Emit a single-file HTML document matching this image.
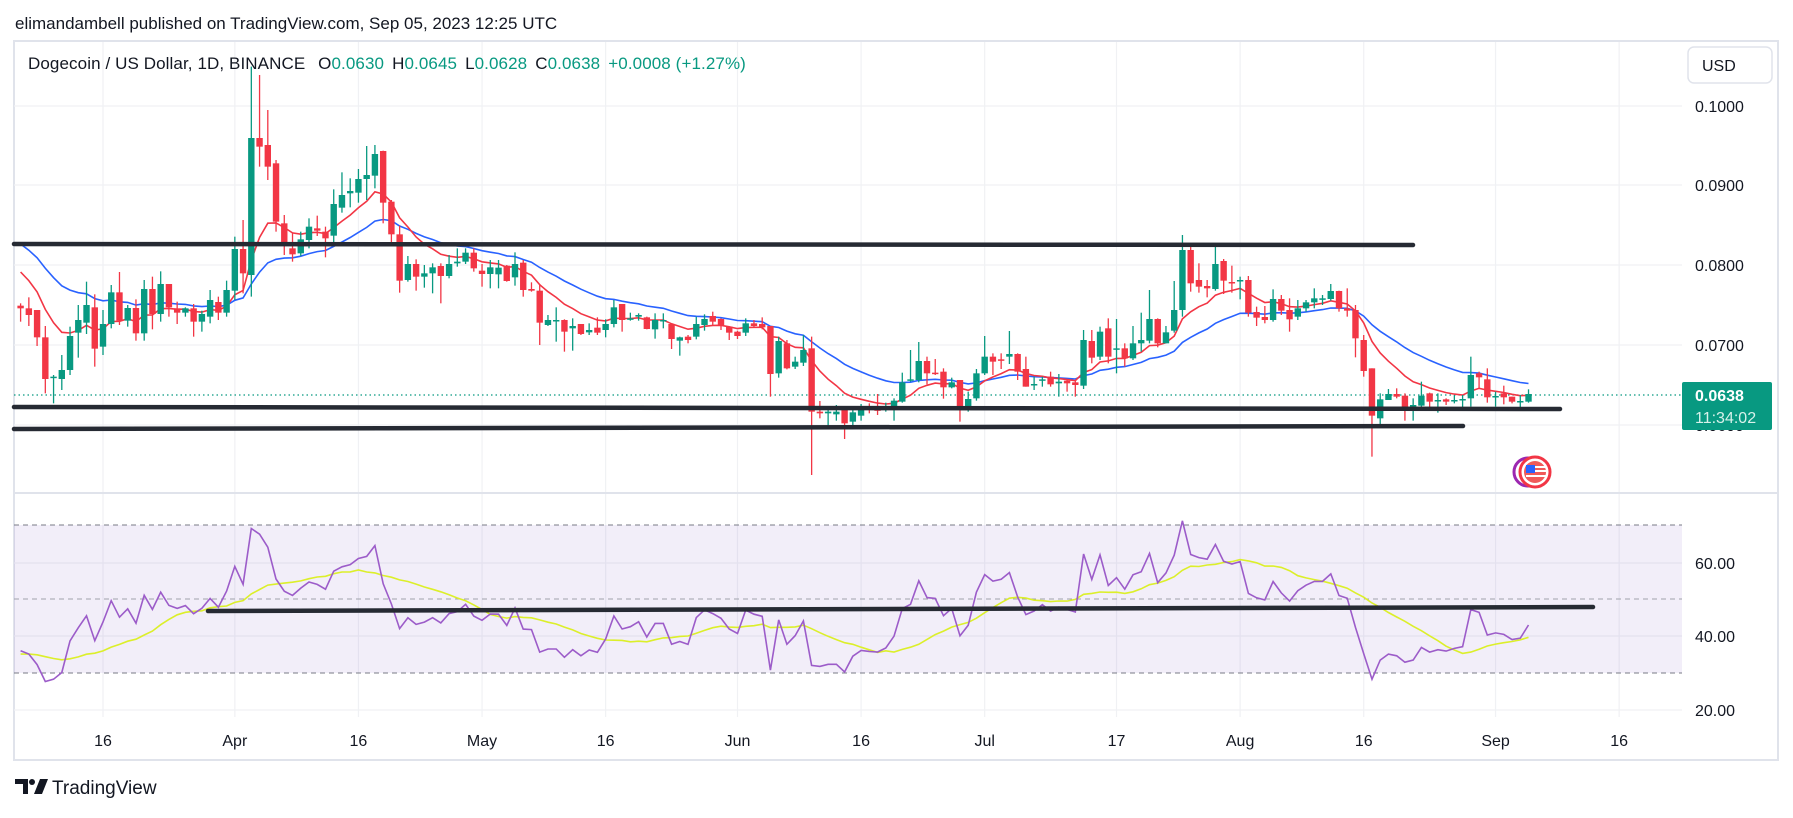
<!DOCTYPE html>
<html><head><meta charset="utf-8">
<style>
html,body{margin:0;padding:0;background:#fff;}
body{width:1793px;height:813px;overflow:hidden;font-family:"Liberation Sans",sans-serif;}
svg text{font-family:"Liberation Sans",sans-serif;}
</style></head>
<body>
<svg id="s" width="1793" height="813" xmlns="http://www.w3.org/2000/svg">
<rect width="1793" height="813" fill="#fff"/>
<text x="15" y="29" font-size="17" fill="#131722">elimandambell published on TradingView.com, Sep 05, 2023 12:25 UTC</text>
<rect x="14" y="41" width="1764" height="719" fill="none" stroke="#e0e3eb" stroke-width="2"/>
<g id="grid"></g>
<rect x="14" y="525" width="1668" height="148" fill="#7e57c2" fill-opacity="0.1"/>
<line x1="14" y1="525" x2="1682" y2="525" stroke="#787b86" stroke-dasharray="5,4"/>
<line x1="14" y1="599" x2="1682" y2="599" stroke="#a0a3ab" stroke-dasharray="5,4"/>
<line x1="14" y1="673" x2="1682" y2="673" stroke="#787b86" stroke-dasharray="5,4"/>
<line x1="14" y1="493" x2="1778" y2="493" stroke="#e0e3eb" stroke-width="2"/>
<line x1="14" y1="395" x2="1682" y2="395" stroke="#089981" stroke-dasharray="1.5,3" stroke-width="1.2"/>
<g id="ma"></g>
<g id="candles"></g>
<g id="rsi"></g>
<g stroke="#262a33" stroke-width="4.5" stroke-linecap="round">
<line x1="14" y1="244" x2="1413" y2="245"/>
<line x1="14" y1="407" x2="1560" y2="409"/>
<line x1="14" y1="429" x2="1463" y2="426"/>
<line x1="208" y1="611" x2="1593" y2="607"/>
</g>
<text x="28" y="69" font-size="17" letter-spacing="0.1" fill="#131722">Dogecoin / US Dollar, 1D, BINANCE <tspan dx="8">O</tspan><tspan fill="#089981">0.0630</tspan><tspan dx="8">H</tspan><tspan fill="#089981">0.0645</tspan><tspan dx="8">L</tspan><tspan fill="#089981">0.0628</tspan><tspan dx="8">C</tspan><tspan fill="#089981">0.0638</tspan><tspan dx="8" fill="#089981">+0.0008 (+1.27%)</tspan></text>
<rect x="1688" y="47" width="84" height="36" rx="6" fill="#fff" stroke="#e0e3eb" stroke-width="1.5"/>
<text x="1702" y="71" font-size="16" fill="#131722">USD</text>
<g font-size="16" fill="#131722">
<text x="1695" y="112">0.1000</text>
<text x="1695" y="191">0.0900</text>
<text x="1695" y="271">0.0800</text>
<text x="1695" y="351">0.0700</text>
<text x="1695" y="431">0.0600</text>
<text x="1695" y="569">60.00</text>
<text x="1695" y="642">40.00</text>
<text x="1695" y="716">20.00</text>
</g>
<rect x="1682" y="382" width="90" height="48" rx="2" fill="#089981"/>
<text x="1695" y="401" font-size="16" font-weight="bold" fill="#fff">0.0638</text>
<text x="1695" y="423" font-size="16" fill="#d8f1ea">11:34:02</text>
<g>
<circle cx="1528" cy="472" r="14" fill="none" stroke="#9c27b0" stroke-width="3"/>
<circle cx="1535" cy="472" r="15" fill="#fff" stroke="#f23645" stroke-width="3"/>
<circle cx="1535" cy="472" r="11" fill="#f05a5a"/>
<rect x="1526" y="465" width="9" height="8" fill="#2962ff"/>
<rect x="1535" y="466" width="11" height="2" fill="#fff"/>
<rect x="1535" y="470" width="11" height="2" fill="#fff"/>
<rect x="1526" y="475" width="20" height="2" fill="#fff"/>
</g>
<g id="tl" font-size="16" fill="#131722" text-anchor="middle"></g>
<g transform="translate(15,779)">
<path d="M0 0 H13 V15 H8 V5 H0 Z" fill="#131722"/>
<circle cx="17" cy="3" r="3" fill="#131722"/>
<path d="M19 15 L25 0 H33 L27 15 Z" fill="#131722"/>
</g>
<text x="52" y="794" font-size="19" fill="#131722">TradingView</text>
</svg>
<script>
(function(){
var NS="http://www.w3.org/2000/svg";
function el(t,a,p){var e=document.createElementNS(NS,t);for(var k in a)e.setAttribute(k,a[k]);p.appendChild(e);return e;}
function X(d){return 103+8.24*d;}
var grid=document.getElementById('grid');
var labs=[[0,'16'],[16,'Apr'],[31,'16'],[46,'May'],[61,'16'],[77,'Jun'],[92,'16'],[107,'Jul'],[123,'17'],[138,'Aug'],[153,'16'],[169,'Sep'],[184,'16']];
var tl=document.getElementById('tl');
labs.forEach(function(l){var x=X(l[0]);el('line',{x1:x,y1:42,x2:x,y2:717,stroke:'#f0f1f4','stroke-width':1.2},grid);
 var t=el('text',{x:x,y:746},tl);t.textContent=l[1];});
[106,185,265,345,425,563,636,710].forEach(function(y){el('line',{x1:14,y1:y,x2:1682,y2:y,stroke:'#f0f1f4','stroke-width':1.2},grid);});
var A=[[737,745,730,785],[745,765,712,798],[750,832,750,858],[832,957,798,1000],[953,950,945,1030],[957,930,885,990],[930,828,800,945],[818,780,735,893],[788,735,665,822],[742,866,703,920],[860,792,750,885],[792,697,675,805],[697,782,636,795],[782,744,735,800],[744,820,718,842],[820,687,660,842],[687,762,650,808],[762,672,634,785],[672,742,672,770],[745,758,725,792],[758,745,742,770],[745,785,732,830],[785,762,752,815],[770,720,690,790],[726,758,710,780],[758,690,662,770],[692,567,530,720],[567,640,480,700],[645,234,20,710],[234,260,45,320],[255,320,150,360],[310,485,300,515],[490,558,465,585],[565,583,520,605],[580,538,515,588],[540,500,475,565],[505,512,467,528],[515,535,500,592],[527,432,388,550],[443,405,337,458],[400,393,355,442],[398,357,327,428],[357,345,258,420],[347,282,255,385],[273,428,272,490],[425,523,420,555],[523,662,497,698],[660,612,588,665],[612,650,598,692],[650,640,615,683],[640,622,610,700],[618,648,610,730],[648,612,585,655],[610,605,565,620],[605,578,565,612],[578,625,565,635],[632,642,612,680],[642,622,600,685]];
var B=[[163,143,120,205],[137,183,135,185],[172,132,97,197],[128,210,120,230],[207,212,187,215],[212,308,192,375],[315,300,285,318],[300,300,262,365],[300,335,298,395],[325,318,295,392],[312,342,312,345],[337,330,310,345],[323,338,292,345],[330,312,298,352],[312,262,240,322],[252,300,252,335],[298,295,278,302],[290,285,280,302],[292,327,290,328],[328,300,280,356],[300,300,280,325],[312,357,312,387],[362,352,350,407],[350,360,345,370],[350,312,290,358],[315,297,283,332],[288,305,275,318],[297,315,295,330],[320,338,322,360],[335,348,332,357],[338,310,295,348],[310,318,300,322],[312,322,292,328],[318,462,318,530]];
var C=[[130,33,20,143],[40,115,30,118],[110,95,80,117],[98,60,15,108],[55,245,20,435],[245,250,213,265],[250,245,240,288],[253,245,225,272],[237,280,232,327],[275,247,237,297],[257,235,222,272],[233,238,220,250],[238,240,192,255],[240,233,218,245],[230,212,205,272],[215,157,128,218],[152,148,60,155],[150,93,36,157],[93,130,80,163],[128,132,87,135],[125,172,115,206],[172,157,143,175],[150,228,150,275],[228,207,185,245],[205,130,117,212],[130,80,18,135],[80,95,70,135],[88,90,70,117],[80,72,3,102],[72,125,70,150],[117,170,80,170],[165,162,140,180],[152,148,140,170],[140,163,125,170],[160,155,132,200],[152,160,150,185],[157,165,150,200],[167,30,0,177],[33,83,0,100]];
var D=[[410,335,320,420],[325,410,295,430],[385,385,297,460],[385,415,370,440],[415,370,318,420],[370,360,278,395],[362,297,210,370],[297,370,295,382],[370,337,318,370],[332,270,183,338],[270,90,45,290],[90,190,78,215],[180,200,130,218],[198,205,180,232],[207,132,80,212],[123,182,117,222],[186,190,137,218],[180,180,170,238],[180,278,168,290],[276,293,260,318],[291,300,258,310],[300,237,208,305],[237,272,225,285],[270,298,235,335],[290,265,240,300],[265,247,240,275],[247,235,205,265],[235,235,225,255],[237,213,192,242],[213,265,212,275],[265,272,205,290],[270,355,255,412],[360,453,345,470],[445,587,445,710],[595,538,520,620],[540,522,507,540],[522,530,505,535],[527,560,520,602],[555,555,535,602],[557,527,485,560],[520,545,518,565],[540,540,520,578],[538,545,535,555],[543,540,525,550],[540,537,525,568],[535,465,410,560],[460,472,455,505],[478,532,445,548],[532,528,515,560],[520,532,497,553],[530,545,530,550],[543,543,525,565],[545,522,508,548]];
var data=[];
function add(arr,off){arr.forEach(function(c){data.push(c.map(function(v){return off+v/3;}));});}
add(A,60);add(B,220);add(C,330);add(D,220);
var cg=document.getElementById('candles');
var d0=-10;
data.forEach(function(c,i){var x=X(d0+i);var o=c[0],cl=c[1],h=Math.min(c[2],o,cl),l=Math.max(c[3],o,cl);
 var up=cl<=o;var col=up?'#089981':'#f23645';
 el('line',{x1:x,y1:h,x2:x,y2:l,stroke:col,'stroke-width':1.3},cg);
 var top=Math.min(o,cl),bh=Math.max(Math.abs(o-cl),1.5);
 el('rect',{x:x-3.2,y:top,width:6.4,height:bh,fill:col},cg);});
var red=272,blue=244,rp=[],bp=[];
data.forEach(function(c,i){var v=c[1];if(i>0){red=red+0.2*(v-red);blue=blue+0.087*(v-blue);}rp.push([X(d0+i),red]);bp.push([X(d0+i),blue]);});
function pts(a){return a.map(function(p){return p[0].toFixed(1)+','+p[1].toFixed(1);}).join(' ');}
var mg=document.getElementById('ma');
el('polyline',{points:pts(bp),fill:'none',stroke:'#2962ff','stroke-width':1.6},mg);
el('polyline',{points:pts(rp),fill:'none',stroke:'#f23645','stroke-width':1.6},mg);
function P(y){return 0.07+(345-y)/8000;}
var ag=0.0009,al=0.0016,rs=[];
data.forEach(function(c,i){if(i>0){var ch=P(c[1])-P(data[i-1][1]);var g=ch>0?ch:0,lo=ch<0?-ch:0;ag=(ag*13+g)/14;al=(al*13+lo)/14;}
 rs.push(100-100/(1+ag/al));});
var hist=[];for(var k=0;k<13;k++)hist.push(35);
var ys=[];rs.forEach(function(r,i){hist.push(r);var s=0;for(var j=hist.length-14;j<hist.length;j++)s+=hist[j];ys.push(s/14);});
function RY(r){return 636-(r-40)*3.67;}
var rg=document.getElementById('rsi');
el('polyline',{points:pts(ys.map(function(r,i){return [X(d0+i),RY(r)];})),fill:'none',stroke:'#dcef2a','stroke-width':1.6},rg);
el('polyline',{points:pts(rs.map(function(r,i){return [X(d0+i),RY(r)];})),fill:'none',stroke:'#9c5cc9','stroke-width':1.6},rg);
})();
</script>
</body></html>
